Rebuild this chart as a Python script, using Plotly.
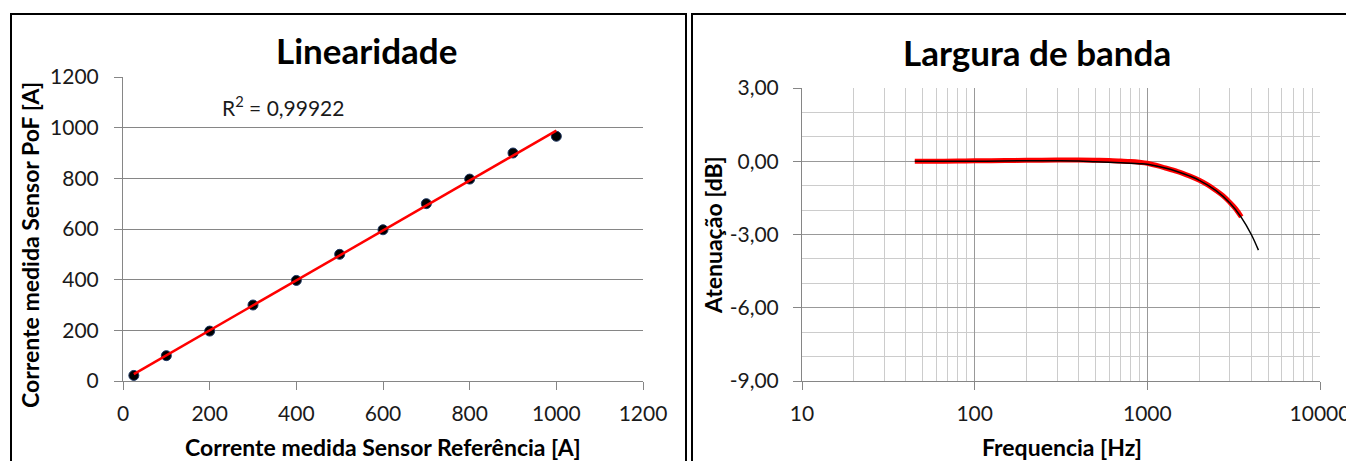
import numpy as np
import plotly.graph_objects as go

# ---------------- data ----------------
ref_current = [25, 100, 200, 300, 400, 500, 600, 700, 800, 900, 1000]
pof_current = [22, 100, 197, 300, 397, 500, 597, 700, 797, 900, 966]
r2_label = "R<sup>2</sup> = 0,99922"

freq_meas = [45, 60, 80, 100, 150, 200, 300, 400, 500, 600, 700, 800, 900, 1000,
             1250, 1500, 1750, 2000, 2250, 2500, 2750, 3000, 3250, 3500]
atten_meas = [0.0, 0.0, 0.01, 0.02, 0.03, 0.04, 0.05, 0.05, 0.04, 0.03, 0.01, -0.01,
              -0.04, -0.08, -0.26, -0.42, -0.6, -0.78, -0.98, -1.2, -1.42, -1.68, -1.95, -2.28]
freq_fit = [45, 100, 200, 300, 400, 500, 600, 700, 800, 900, 1000, 1250, 1500, 1750,
            2000, 2500, 3000, 3500, 4000, 4400]
atten_fit = [0.0, 0.0, 0.02, 0.02, 0.01, -0.02, -0.04, -0.06, -0.08, -0.1, -0.12, -0.27,
             -0.43, -0.6, -0.78, -1.2, -1.7, -2.3, -3.0, -3.64]

lin_ticks = [0, 200, 400, 600, 800, 1000, 1200]
freq_ticks = [10, 100, 1000, 10000]
freq_ticktext = ["10", "100", "1000", "10000"]
db_ticks = [-9, -6, -3, 0, 3]
db_ticktext = ["-9,00", "-6,00", "-3,00", "0,00", "3,00"]

# page body has an 8px margin: the figure is placed at (8, 8) in the window
OFF = 8
W, H = 1354 - OFF, 461 - OFF
FONT = "Lato"
TXT = "#1a1a1a"
AX = "#868686"


def px(x):
    return (x - OFF) / W


def py(y):
    return 1 - (y - OFF) / H


# linear trendline from the data
slope, intercept = np.polyfit(ref_current, pof_current, 1)
fit_x = np.array([min(ref_current), max(ref_current)])
fit_y = slope * fit_x + intercept

minor_freq = [k * 10 ** e for e in range(1, 4) for k in range(2, 10)]

fig = go.Figure()

fig.add_trace(go.Scatter(x=ref_current, y=pof_current, mode="markers",
                         marker=dict(color="black", size=10, line=dict(color="#1f3864", width=1)),
                         xaxis="x", yaxis="y", showlegend=False))
fig.add_trace(go.Scatter(x=fit_x, y=fit_y, mode="lines",
                         line=dict(color="#ff0000", width=2.5),
                         xaxis="x", yaxis="y", showlegend=False))

fig.add_trace(go.Scatter(x=freq_meas, y=atten_meas, mode="lines",
                         line=dict(color="#ff0000", width=5, shape="spline"),
                         xaxis="x2", yaxis="y2", showlegend=False))
fig.add_trace(go.Scatter(x=freq_fit, y=atten_fit, mode="lines",
                         line=dict(color="black", width=1.5, shape="spline"),
                         xaxis="x2", yaxis="y2", showlegend=False))

tickfont = dict(family=FONT, size=21, color=TXT)

fig.update_layout(
    width=W, height=H,
    margin=dict(l=0, r=0, t=0, b=0, pad=0),
    paper_bgcolor="white", plot_bgcolor="white",
    showlegend=False,
    xaxis=dict(domain=[px(123), px(643)], range=[0, 1200], tickmode="array", tickvals=lin_ticks,
               showgrid=False, zeroline=False, showline=True, linecolor=AX, linewidth=1,
               ticks="outside", ticklen=8, tickcolor=AX, tickfont=tickfont, anchor="y",
               ticklabelstandoff=6, automargin=False),
    yaxis=dict(domain=[py(381), py(77)], range=[0, 1200], tickmode="array", tickvals=lin_ticks,
               showgrid=True, gridcolor=AX, gridwidth=1, zeroline=False, showline=True,
               linecolor=AX, ticks="outside", ticklen=8, tickcolor=AX, tickfont=tickfont,
               anchor="x", ticklabelstandoff=11, automargin=False),
    xaxis2=dict(domain=[px(802), px(1320)], type="log", range=[1, 4], tickmode="array",
                tickvals=freq_ticks, ticktext=freq_ticktext, showgrid=True, gridcolor="#999999",
                minor=dict(tickmode="array", tickvals=minor_freq, showgrid=True,
                           gridcolor="#cccccc", ticks=""),
                zeroline=False, showline=True, linecolor=AX, ticks="outside", ticklen=8,
                tickcolor=AX, tickfont=tickfont, anchor="y2", ticklabelstandoff=6,
                automargin=False),
    yaxis2=dict(domain=[py(381), py(88)], range=[-9, 3], tickmode="array", tickvals=db_ticks,
                ticktext=db_ticktext, showgrid=True, gridcolor="#999999",
                minor=dict(dtick=1, showgrid=True, gridcolor="#cccccc", ticks=""),
                zeroline=False, showline=True, linecolor=AX, ticks="outside", ticklen=8,
                tickcolor=AX, tickfont=tickfont, anchor="x2", ticklabelstandoff=10,
                automargin=False),
    shapes=[
        dict(type="rect", xref="paper", yref="paper", x0=px(11), x1=px(686), y0=-0.2, y1=py(14),
             line=dict(color="black", width=2)),
        dict(type="rect", xref="paper", yref="paper", x0=px(692), x1=1.2, y0=-0.2, y1=py(14),
             line=dict(color="black", width=2)),
    ],
    annotations=[
        dict(text="<b>Linearidade</b>", x=px(366), y=py(50), xref="paper", yref="paper",
             showarrow=False, xanchor="center", yanchor="middle",
             font=dict(family=FONT, size=35, color="black")),
        dict(text="<b>Largura de banda</b>", x=px(1037), y=py(52), xref="paper", yref="paper",
             showarrow=False, xanchor="center", yanchor="middle",
             font=dict(family=FONT, size=35, color="black")),
        dict(text=r2_label, x=px(283), y=py(106), xref="paper", yref="paper",
             showarrow=False, xanchor="center", yanchor="middle",
             font=dict(family=FONT, size=21, color=TXT)),
        dict(text="<b>Corrente medida Sensor Referência [A]</b>", x=px(383), y=py(447),
             xref="paper", yref="paper", showarrow=False, xanchor="center", yanchor="middle",
             font=dict(family=FONT, size=23, color="black")),
        dict(text="<b>Corrente medida Sensor PoF [A]</b>", x=px(30), y=py(245),
             xref="paper", yref="paper", showarrow=False, xanchor="center", yanchor="middle",
             textangle=-90, font=dict(family=FONT, size=23, color="black")),
        dict(text="<b>Frequencia [Hz]</b>", x=px(1062), y=py(447),
             xref="paper", yref="paper", showarrow=False, xanchor="center", yanchor="middle",
             font=dict(family=FONT, size=23, color="black")),
        dict(text="<b>Atenuação [dB]</b>", x=px(713), y=py(235),
             xref="paper", yref="paper", showarrow=False, xanchor="center", yanchor="middle",
             textangle=-90, font=dict(family=FONT, size=23, color="black")),
    ],
)

fig.write_html("out.html")
